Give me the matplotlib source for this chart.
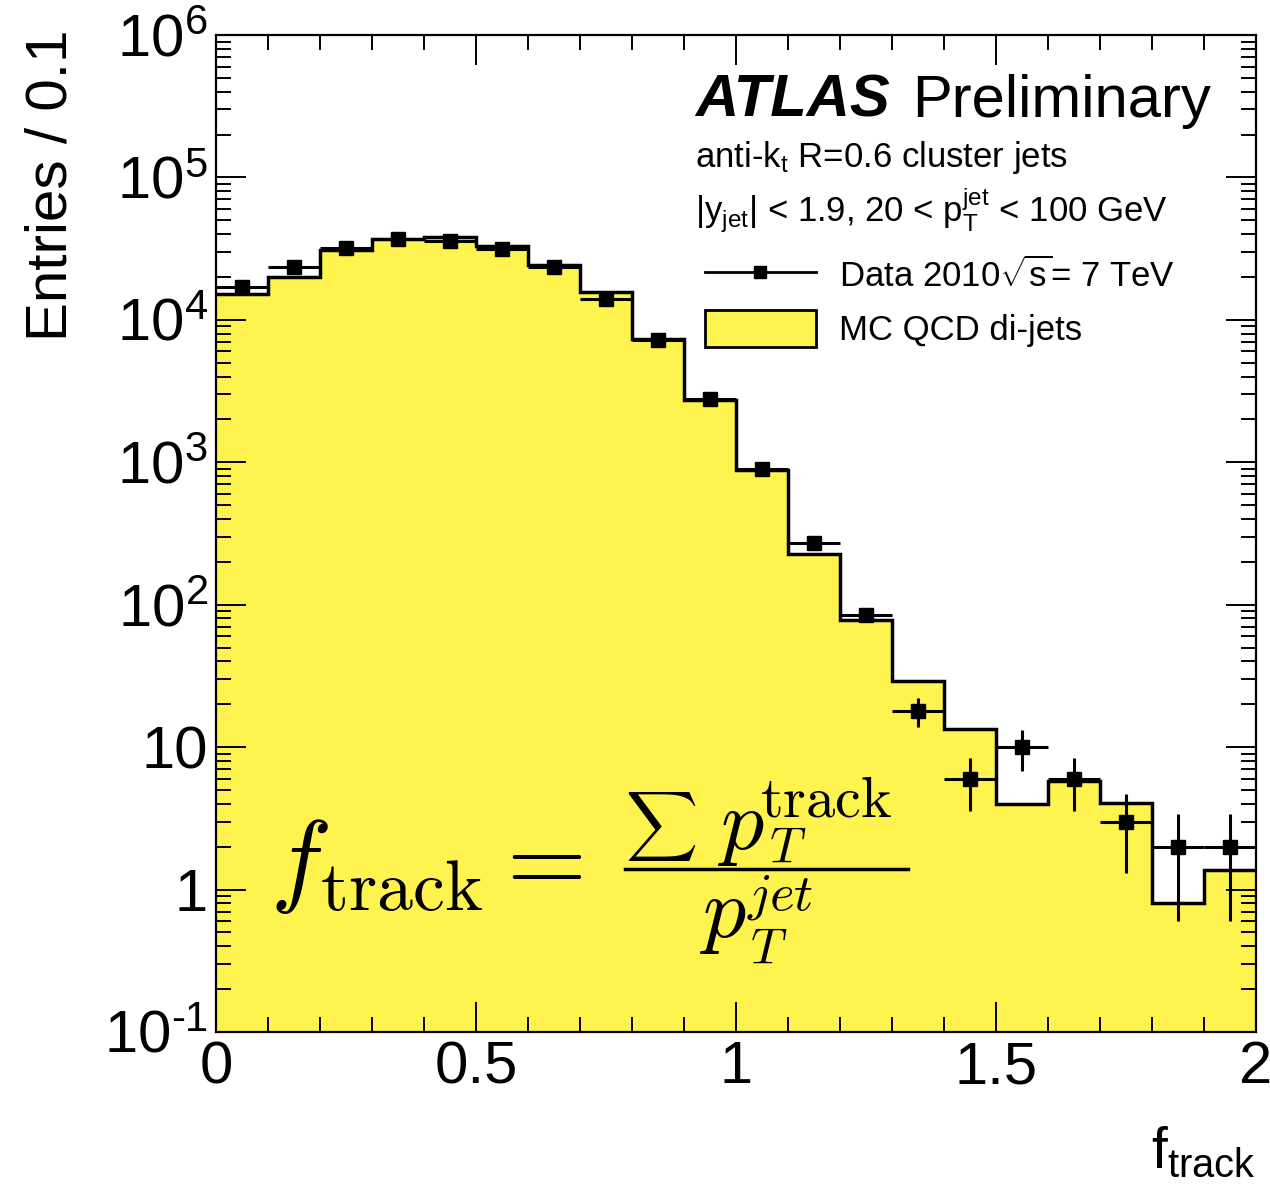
import numpy as np
import matplotlib
matplotlib.use("Agg")
import matplotlib.pyplot as plt
from matplotlib.lines import Line2D
from matplotlib.patches import Patch
from matplotlib.ticker import FixedLocator, FixedFormatter, LogLocator, MultipleLocator, NullFormatter

plt.rcParams['font.family'] = ['Liberation Sans', 'DejaVu Sans']
plt.rcParams['mathtext.fontset'] = 'custom'
plt.rcParams['mathtext.rm'] = 'Liberation Sans'
plt.rcParams['mathtext.it'] = 'Liberation Sans:italic'
plt.rcParams['mathtext.bf'] = 'Liberation Sans:bold'

# f_track bins, width 0.1
edges = np.round(np.arange(0, 2.01, 0.1), 2)
mc = [15200, 20100, 31100, 37200, 38200, 32800, 24400, 15600, 7350, 2730,
      880, 228, 78, 29, 13.5, 4.0, 5.8, 4.05, 0.8, 1.38]
data = [17000, 23500, 32000, 37000, 36000, 31500, 23500, 14000, 7200, 2770,
        900, 270, 85, 18, 6, 10, 6, 3, 2, 2]
data_err = [130, 153, 179, 192, 190, 177, 153, 118, 85, 53,
            30, 16, 9.2, 4.2, 2.45, 3.2, 2.45, 1.7, 1.4, 1.4]
xtick_vals = [0, 0.5, 1, 1.5, 2]
xtick_labels = ['0', '0.5', '1', '1.5', '2']
ytick_vals = [0.1, 1, 10, 100, 1e3, 1e4, 1e5, 1e6]
ytick_labels = [r'$\mathregular{10^{\text{-}1}}$', '1', '10', r'$\mathregular{10^{2}}$',
                r'$\mathregular{10^{3}}$', r'$\mathregular{10^{4}}$',
                r'$\mathregular{10^{5}}$', r'$\mathregular{10^{6}}$']

yellow = '#fff350'
centers = (edges[:-1] + edges[1:]) / 2

fig = plt.figure(figsize=(12.7, 11.86), dpi=100)
ax = fig.add_axes([0.1701, 0.1299, 0.8189, 0.8406])

# MC histogram
ax.stairs(mc, edges, baseline=0.001, fill=True, color=yellow, zorder=1)
ax.stairs(mc, edges, baseline=None, color='black', lw=2.5, zorder=1.5)

# data
ax.errorbar(centers, data, xerr=0.05, yerr=data_err, fmt='s', color='black',
            ms=10, lw=2.2, capsize=0, zorder=2)

ax.set_yscale('log')
ax.set_xlim(0, 2)
ax.set_ylim(0.1, 1e6)

ax.xaxis.set_major_locator(FixedLocator(xtick_vals))
ax.xaxis.set_major_formatter(FixedFormatter(xtick_labels))
ax.xaxis.set_minor_locator(MultipleLocator(0.1))
ax.yaxis.set_major_locator(FixedLocator(ytick_vals))
ax.yaxis.set_major_formatter(FixedFormatter(ytick_labels))
ax.yaxis.set_minor_locator(LogLocator(base=10, subs=range(2, 10), numticks=20))
ax.yaxis.set_minor_formatter(NullFormatter())

ax.tick_params(which='both', direction='in', top=True, right=True, width=1.4, labelsize=43)
ax.tick_params(which='major', length=21.6)
ax.tick_params(which='minor', length=10.8)
ax.tick_params(axis='x', pad=6)
ax.tick_params(axis='y', pad=6)
for s in ax.spines.values():
    s.set_linewidth(1.6)

ax.set_ylabel('Entries / 0.1', fontsize=42, loc='top')
ax.yaxis.set_label_coords(-0.132, 1.006)
ax.set_xlabel(r'f$_{\mathregular{track}}$', fontsize=41, loc='right', labelpad=22)

# labels
ax.text(0.4606, 0.9178, 'ATLAS', transform=ax.transAxes, fontsize=43,
        fontweight='bold', fontstyle='italic', va='baseline')
ax.text(0.669, 0.9178, 'Preliminary', transform=ax.transAxes, fontsize=43, va='baseline')
ax.text(0.4606, 0.8676, r'anti-k$_{\mathregular{t}}$ R=0.6 cluster jets',
        transform=ax.transAxes, fontsize=25, va='baseline')
ax.text(0.4606, 0.8124,
        r'|y$_{\mathregular{jet}}$| < 1.9, 20 < p$_{\mathregular{T}}^{\mathregular{jet}}$ < 100 GeV',
        transform=ax.transAxes, fontsize=25, va='baseline')

handles = [Line2D([], [], color='black', marker='s', ms=8, lw=2),
           Patch(facecolor=yellow, edgecolor='black', lw=2)]
ax.legend(handles, [r'Data 2010$\sqrt{\mathregular{s}}$= 7 TeV', 'MC QCD di-jets'],
          loc='upper left', bbox_to_anchor=(0.470, 0.777), frameon=False,
          fontsize=25, handlelength=3.2, handleheight=1.25, handletextpad=0.66,
          labelspacing=0.45, borderpad=0, borderaxespad=0)

# formula: f_track = sum p_T^track / p_T^jet, built piece by piece
cm = dict(transform=ax.transAxes, va='baseline', math_fontfamily='cm')
ax.text(0.052, 0.1394, r'$f_{\mathrm{track}} =$', fontsize=74, **cm)
ax.text(0.3932, 0.1695, r'$\sum$', transform=ax.transAxes, fontsize=36,
        va='bottom', math_fontfamily='cm')
ax.text(0.4827, 0.1836, r'$p$', fontsize=62, **cm)
ax.text(0.5320, 0.1705, r'$T$', fontsize=36, **cm)
ax.text(0.5231, 0.2156, r'$\mathrm{track}$', fontsize=42, **cm)
ax.add_line(Line2D([0.3933, 0.6654], [0.1635, 0.1635], transform=ax.transAxes,
                   color='black', lw=2.5))
ax.text(0.4654, 0.0953, r'$p$', fontsize=62, **cm)
ax.text(0.5130, 0.0692, r'$T$', fontsize=36, **cm)
ax.text(0.5106, 0.1224, r'$jet$', fontsize=38, **cm)

fig.savefig('out.png', dpi=100)
